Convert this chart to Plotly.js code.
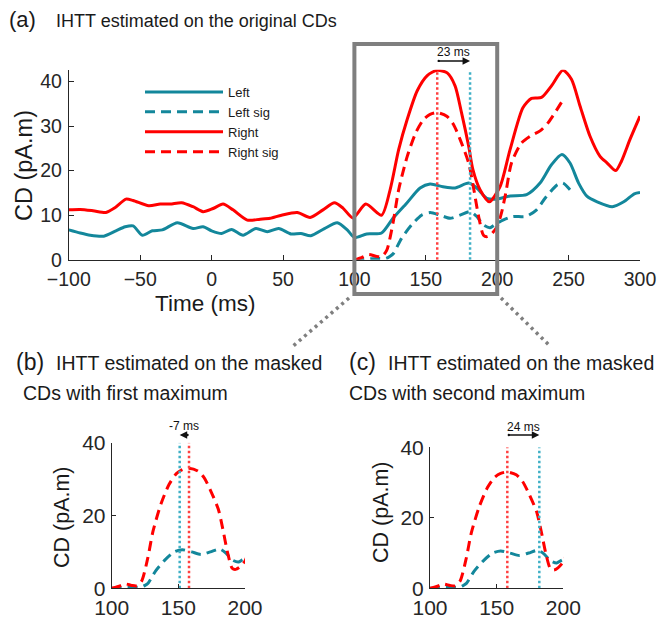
<!DOCTYPE html>
<html>
<head>
<meta charset="utf-8">
<script src="https://cdn.plot.ly/plotly-3.0.1.min.js"></script>
<style>html,body{margin:0;padding:0;background:#fff;}#chart{width:659px;height:618px;}</style>
</head>
<body>
<div id="chart"></div>
<script>
// ---- data ----
const tLeft = [-100,-92,-85,-75.5,-67,-60.5,-55,-48.5,-41.5,-34.5,-24,-13,-6,0,7,14,22,31,39,47,55.5,62.5,69.5,79,88,95,100,108.6,119,127,136.6,146,153,162,170.5,180,185.7,192.7,199,209,220.6,230,238,245.3,251,257,263,270,280.6,288.6,296,300];
const vLeft = [6.7,6.0,5.5,5.3,6.5,7.4,7.6,5.5,6.5,6.7,8.3,7.0,7.4,6.5,5.9,6.8,5.5,7.0,6.3,7.0,5.8,5.9,5.4,7.0,8.3,6.7,5.0,5.8,6.0,9.3,12.7,16.1,17.0,16.4,16.1,17.2,16.1,13.8,13.6,14.3,14.6,17.2,21.3,23.6,21.7,17.2,14.2,13.0,11.9,13.0,14.8,15.1];

const tRight = [-100,-92,-83,-74,-68,-60,-55,-44,-36,-29,-21,-13,-6,1,8,15,25,34,41,49,60,69,78,86,92,99,108,119,125,131,137,144,151,158,165,170.5,175,180,183,188,194.5,202,209,218,224,231,238,246,252,258,265,272,277,283,287,293,300];
const vRight = [11.2,11.3,11.0,10.6,11.6,13.6,13.3,12.1,12.5,12.5,12.8,11.9,10.8,11.5,12.5,11.2,8.9,9.1,9.3,10.0,10.6,9.5,11.2,12.8,11.6,9.4,12.5,10.0,15.7,24.7,31.5,37.9,41.3,42.5,41.9,39.0,33.0,25.5,20.2,15.7,13.0,16.4,24.7,34.1,36.2,36.4,39.0,42.5,40.5,34.5,27.7,23.2,21.7,20.0,22.1,27.0,32.2];

const tLeftSig = [100,105,110,117,122,125,127.3,133,140,147,153,160,167,174,181,185.7,190.4,195,198,204,211,220,227.6,233.5,242,246,251];
const vLeftSig = [0,0,0.2,0.3,0.3,0.8,1.4,4.8,7.8,10.0,10.6,10.0,9.3,10.0,10.8,9.7,7.8,7.2,7.8,8.9,9.7,9.7,11.2,13.8,16.8,17.2,15.7];

const tRightSig = [100,105,110,115,119,122.6,127,131,137,143,148.5,153,158,164.7,169.3,174,180,183.3,187,190.4,193,196,200,203,206,210,217,223,230,235.6,245];
const vRightSig = [0,0.5,1.2,0.8,0.7,2.1,8.2,15.7,23.2,28.5,31.5,32.6,33.0,32.2,30.4,27.0,21.7,16.4,9.7,5.5,5.2,5.8,7.5,10.5,15.0,21.7,26.2,27.7,28.9,30.7,35.3];

const rightPeak = 158;        // time of right maximum (ms)
const leftPeakOrig = 181;     // left maximum, original CDs
const leftPeakFirst = 151;    // left first maximum, masked
const leftPeakSecond = 182;   // left second maximum, masked

const xTicksA = [-100,-50,0,50,100,150,200,250,300];
const yTicksA = [0,10,20,30,40];
const xTicksB = [100,150,200];
const yTicksB = [0,20,40];
const zoomWindow = [100,200];

// ---- styling ----
const W = 659, H = 618;
const fx = p => p / W;
const fy = p => 1 - p / H;
const TEAL = '#13879b', RED = '#ff0000';
const TEAL_DOT = '#3fb0c6', RED_DOT = '#ff4040';
const FONT = 'Liberation Sans, Arial, Helvetica, sans-serif';
const INK = '#262626';
const DASH = '10px,6px';
const DOT = '2.5px,2.5px';

const domA = {x:[fx(68.8), fx(640)], y:[fy(259.8), fy(69.8)]};
const domB = {x:[fx(111.7), fx(245)], y:[fy(588.3), fy(442.7)]};
const domC = {x:[fx(430), fx(563.3)], y:[fy(588.3), fy(447.3)]};
const rangeA = {x:[-100,300], y:[0,42.6]};
const rangeB = {x:[100,200], y:[0,40]};

function line(x, y, color, dash, xa, ya, name, legend) {
  return {x, y, type:'scatter', mode:'lines', name: name || '', showlegend: !!legend,
          xaxis: xa, yaxis: ya, hoverinfo:'skip',
          line:{color, width:3, dash: dash || 'solid', shape:'spline', smoothing:0.7}};
}
function vline(x, ymax, color, xa, ya) {
  return {x:[x,x], y:[0,ymax], type:'scatter', mode:'lines', showlegend:false,
          xaxis:xa, yaxis:ya, hoverinfo:'skip', line:{color, width:2.5, dash:DOT}};
}

const traces = [
  line(tLeft, vLeft, TEAL, 'solid', 'x', 'y', 'Left', true),
  line(tLeftSig, vLeftSig, TEAL, DASH, 'x', 'y', 'Left sig', true),
  line(tRight, vRight, RED, 'solid', 'x', 'y', 'Right', true),
  line(tRightSig, vRightSig, RED, DASH, 'x', 'y', 'Right sig', true),
  vline(rightPeak, rangeA.y[1], RED_DOT, 'x', 'y'),
  vline(leftPeakOrig, rangeA.y[1], TEAL_DOT, 'x', 'y'),

  line(tLeftSig, vLeftSig, TEAL, DASH, 'x2', 'y2'),
  line(tRightSig, vRightSig, RED, DASH, 'x2', 'y2'),
  vline(leftPeakFirst, rangeB.y[1], TEAL_DOT, 'x2', 'y2'),
  vline(rightPeak, rangeB.y[1], RED_DOT, 'x2', 'y2'),

  line(tLeftSig, vLeftSig, TEAL, DASH, 'x3', 'y3'),
  line(tRightSig, vRightSig, RED, DASH, 'x3', 'y3'),
  vline(rightPeak, rangeB.y[1], RED_DOT, 'x3', 'y3'),
  vline(leftPeakSecond, rangeB.y[1], TEAL_DOT, 'x3', 'y3')
];

function axis(dom, range, ticks, anchor, fs, ticklen, standoff) {
  const a = {domain: dom, range: range, anchor: anchor, tickmode:'array', tickvals: ticks,
          ticks:'inside', ticklen: ticklen, tickwidth:1, tickcolor: INK,
          showline:true, linecolor: INK, linewidth:1, showgrid:false, zeroline:false,
          tickfont:{family: FONT, size: fs, color: INK}, fixedrange:true};
  if (standoff) a.ticklabelstandoff = standoff;
  return a;
}

// paper-coordinate helpers from data values
const paperX = (v, dom, r) => dom[0] + (v - r[0]) / (r[1] - r[0]) * (dom[1] - dom[0]);
const paperY = (v, dom, r) => dom[0] + (v - r[0]) / (r[1] - r[0]) * (dom[1] - dom[0]);

const ann = [];
function txt(text, x, y, size, xanchor, extra) {
  ann.push(Object.assign({text, x, y, xref:'paper', yref:'paper', xanchor: xanchor || 'left', yanchor:'middle',
    showarrow:false, font:{family: FONT, size, color:'#1a1a1a'}}, extra || {}));
}
txt('(a)', fx(7), fy(20), 22);
txt('IHTT estimated on the original CDs', fx(54), fy(21), 18);
txt('(b)', fx(14), fy(362), 23);
txt('IHTT estimated on the masked', fx(54), fy(363), 19.5);
txt('CDs with first maximum', fx(21), fy(393), 19.5);
txt('(c)', fx(347), fy(362), 23);
txt('IHTT estimated on the masked', fx(386), fy(363), 19.5);
txt('CDs with second maximum', fx(347), fy(393), 19.5);
txt('Time (ms)', fx(205), fy(303), 22.5, 'center');
txt('CD (pA.m)', fx(24), fy(166), 23.5, 'center', {textangle:-90});
txt('CD (pA.m)', fx(62), fy(517), 21.5, 'center', {textangle:-90});
txt('CD (pA.m)', fx(381), fy(512), 21.5, 'center', {textangle:-90});

function delay(left, right, xa, dom, range, yArrow, yText) {
  const pa = paperY(yArrow, dom, range), pt = paperY(yText, dom, range);
  ann.push({x: left, y: pa, ax: right, ay: pa, xref: xa, yref:'paper', axref: xa, ayref:'paper',
            showarrow:true, arrowhead:2, arrowsize:1, arrowwidth:1.5, arrowcolor:'#111',
            arrowside:'end+start', startarrowhead:6, startarrowsize:0.4, text:''});
  ann.push({x: (left + right) / 2, y: pt, xref: xa, yref:'paper', showarrow:false, yanchor:'middle',
            text: (left - right) + ' ms', font:{family: FONT, size:12, color:'#111'}});
}
delay(leftPeakOrig, rightPeak, 'x', domA.y, rangeA.y, 44.6, 46.5);
delay(leftPeakFirst, rightPeak, 'x2', domB.y, rangeB.y, 42.1, 44.5);
delay(leftPeakSecond, rightPeak, 'x3', domC.y, rangeB.y, 43.5, 45.9);

const GRAY = '#7f7f7f';
const bx0 = paperX(zoomWindow[0], domA.x, rangeA.x);
const bx1 = paperX(zoomWindow[1], domA.x, rangeA.x);
const shapes = [
  {type:'rect', xref:'paper', yref:'paper', x0: bx0, x1: bx1, y0: fy(294), y1: fy(44),
   line:{color: GRAY, width:4}, fillcolor:'rgba(0,0,0,0)', layer:'above'},
  {type:'line', xref:'paper', yref:'paper', x0: fx(349), y0: fy(298), x1: fx(292), y1: fy(347),
   line:{color: GRAY, width:3.5, dash:'3px,4px'}},
  {type:'line', xref:'paper', yref:'paper', x0: fx(501), y0: fy(298), x1: fx(551), y1: fy(347),
   line:{color: GRAY, width:3.5, dash:'3px,4px'}}
];

const layout = {
  width: W, height: H, margin:{l:0, r:0, t:0, b:0},
  paper_bgcolor:'#fff', plot_bgcolor:'rgba(0,0,0,0)',
  font:{family: FONT, color: INK},
  xaxis: axis(domA.x, rangeA.x, xTicksA, 'y', 19.5, 5, 2),
  yaxis: axis(domA.y, rangeA.y, yTicksA, 'x', 19.5, 5, 2),
  xaxis2: axis(domB.x, rangeB.x, xTicksB, 'y2', 21, 4, 0),
  yaxis2: axis(domB.y, rangeB.y, yTicksB, 'x2', 21, 4, 1),
  xaxis3: axis(domC.x, rangeB.x, xTicksB, 'y3', 21, 4, 0),
  yaxis3: axis(domC.y, rangeB.y, yTicksB, 'x3', 21, 4, 1),
  showlegend: true,
  legend: {x: fx(140), y: fy(77), xanchor:'left', yanchor:'top', bgcolor:'rgba(0,0,0,0)',
           borderwidth:0, font:{family: FONT, size:13, color:'#1a1a1a'}, itemwidth:78,
           tracegroupgap:0, traceorder:'normal'},
  annotations: ann,
  shapes: shapes
};

Plotly.newPlot('chart', traces, layout, {staticPlot:true, displayModeBar:false});
</script>
</body>
</html>
